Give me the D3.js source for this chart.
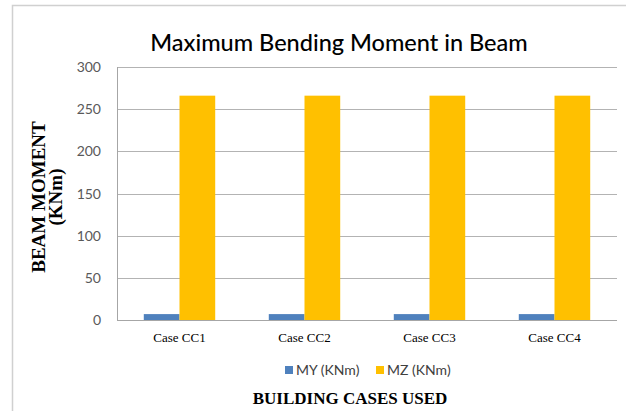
<!DOCTYPE html>
<html>
<head>
<meta charset="utf-8">
<script src="https://cdn.jsdelivr.net/npm/d3@7"></script>
<style>
body { margin: 0; background: #fff; }
.tickLabel { font-family: Lato, "Liberation Sans", Arial, sans-serif; font-size: 14px; fill: #595959; }
.catLabel { font-family: "Liberation Serif", "Times New Roman", serif; font-size: 13px; fill: #000; }
.axisTitle { font-family: "Liberation Serif", "Times New Roman", serif; font-weight: bold; fill: #000; }
.legendText { font-family: Lato, "Liberation Sans", Arial, sans-serif; font-size: 14px; fill: #404040; }
</style>
</head>
<body>
<script>
(function(){

//chart data
var categories = ["Case CC1", "Case CC2", "Case CC3", "Case CC4"];
var seriesNames = ["MY (KNm)", "MZ (KNm)"];
var myValues = [7, 7, 7, 7];
var mzValues = [266, 266, 266, 266];
var yTicks = [0, 50, 100, 150, 200, 250, 300];

var colors = ["#4f81bd", "#ffc000"];

//plot frame
var plotLeft = 117,
    plotRight = 617,
    plotTop = 67,
    plotBottom = 320;

var svg = d3.select("body")
    .append("svg")
    .attr("width", 626)
    .attr("height", 411);

//outer chart border (bottom and right run off the picture)
svg.append("rect")
    .attr("x", 12.5)
    .attr("y", 5.5)
    .attr("width", 700)
    .attr("height", 500)
    .style("fill", "none")
    .style("stroke", "#d0d0d0")
    .style("stroke-width", 1.5);

var yScale = d3.scaleLinear()
    .domain([0, 300])
    .range([plotBottom, plotTop]);

//gap width 150% like excel
var xScale = d3.scaleBand()
    .domain(categories)
    .range([plotLeft, plotRight])
    .paddingInner(1.5 / 3.5)
    .paddingOuter(0.75 / 3.5);

var subScale = d3.scaleBand()
    .domain(seriesNames)
    .range([0, xScale.bandwidth()]);

//gridlines
svg.selectAll(".grid")
    .data(yTicks)
    .enter()
    .append("line")
    .attr("class", "grid")
    .attr("x1", plotLeft)
    .attr("x2", plotRight)
    .attr("y1", function(d){ return Math.round(yScale(d)) + 0.5; })
    .attr("y2", function(d){ return Math.round(yScale(d)) + 0.5; })
    .style("stroke", "#b3b3b3")
    .style("stroke-width", 1);

//y axis line
svg.append("line")
    .attr("x1", plotLeft + 0.5)
    .attr("x2", plotLeft + 0.5)
    .attr("y1", plotTop)
    .attr("y2", plotBottom)
    .style("stroke", "#a6a6a6");

//tick labels
svg.selectAll(".tickLabel")
    .data(yTicks)
    .enter()
    .append("text")
    .attr("class", "tickLabel")
    .attr("x", 101)
    .attr("y", function(d){ return yScale(d) + 5; })
    .attr("text-anchor", "end")
    .text(function(d){ return d; });

//bars
var rows = categories.map(function(c, i){
    return {cat: c, values: [myValues[i], mzValues[i]]};
});

var groups = svg.selectAll(".group")
    .data(rows)
    .enter()
    .append("g")
    .attr("class", "group")
    .attr("transform", function(d){ return "translate(" + xScale(d.cat) + ",0)"; });

groups.selectAll("rect")
    .data(function(d){
        return d.values.map(function(v, j){ return {name: seriesNames[j], value: v, idx: j}; });
    })
    .enter()
    .append("rect")
    .attr("x", function(d){ return subScale(d.name); })
    .attr("width", subScale.bandwidth())
    .attr("y", function(d){ return yScale(d.value); })
    .attr("height", function(d){ return yScale(0) - yScale(d.value); })
    .style("fill", function(d){ return colors[d.idx]; });

//x axis line
svg.append("line")
    .attr("x1", plotLeft)
    .attr("x2", plotRight)
    .attr("y1", plotBottom + 0.5)
    .attr("y2", plotBottom + 0.5)
    .style("stroke", "#a6a6a6");

//category labels
svg.selectAll(".catLabel")
    .data(categories)
    .enter()
    .append("text")
    .attr("class", "catLabel")
    .attr("x", function(d){ return xScale(d) + xScale.bandwidth() / 2; })
    .attr("y", 342)
    .attr("text-anchor", "middle")
    .text(function(d){ return d; });

//chart title
svg.append("text")
    .attr("x", 339)
    .attr("y", 51)
    .attr("text-anchor", "middle")
    .style("font-family", "Lato, 'Liberation Sans', Arial, sans-serif")
    .style("font-size", "23.5px")
    .style("font-weight", 500)
    .style("fill", "#000")
    .text("Maximum Bending Moment in Beam");

//y axis title
var yTitle = svg.append("text")
    .attr("class", "axisTitle")
    .attr("transform", "translate(45,197) rotate(-90)")
    .attr("text-anchor", "middle")
    .style("font-size", "19px");
yTitle.append("tspan").attr("x", 0).attr("y", 0).text("BEAM MOMENT");
yTitle.append("tspan").attr("x", 0).attr("y", 17).text("(KNm)");

//x axis title
svg.append("text")
    .attr("class", "axisTitle")
    .attr("x", 350)
    .attr("y", 404)
    .attr("text-anchor", "middle")
    .style("font-size", "17px")
    .text("BUILDING CASES USED");

//legend
var legendX = [285, 376];
var legend = svg.selectAll(".legend")
    .data(seriesNames)
    .enter()
    .append("g")
    .attr("class", "legend")
    .attr("transform", function(d, i){ return "translate(" + legendX[i] + ",366)"; });

legend.append("rect")
    .attr("width", 8)
    .attr("height", 8)
    .style("fill", function(d, i){ return colors[i]; });

legend.append("text")
    .attr("class", "legendText")
    .attr("x", 11)
    .attr("y", 9)
    .text(function(d){ return d; });

})();
</script>
</body>
</html>
